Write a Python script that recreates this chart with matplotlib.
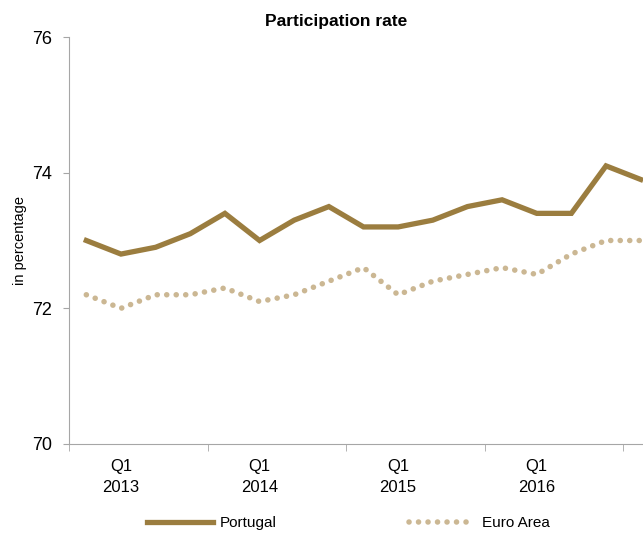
import matplotlib
matplotlib.use("Agg")
import matplotlib.pyplot as plt
import numpy as np

# quarterly data, Q4 2012 .. Q4 2016
quarters = ["Q4 2012",
            "Q1 2013", "Q2 2013", "Q3 2013", "Q4 2013",
            "Q1 2014", "Q2 2014", "Q3 2014", "Q4 2014",
            "Q1 2015", "Q2 2015", "Q3 2015", "Q4 2015",
            "Q1 2016", "Q2 2016", "Q3 2016", "Q4 2016"]
portugal = [73.0, 72.8, 72.9, 73.1, 73.4, 73.0, 73.3, 73.5, 73.2,
            73.2, 73.3, 73.5, 73.6, 73.4, 73.4, 74.1, 73.9]
euro_area = [72.2, 72.0, 72.2, 72.2, 72.3, 72.1, 72.2, 72.4, 72.6,
             72.2, 72.4, 72.5, 72.6, 72.5, 72.8, 73.0, 73.0]
year_labels = ["Q1\n2013", "Q1\n2014", "Q1\n2015", "Q1\n2016"]

plt.rcParams['font.family'] = ['Liberation Sans', 'DejaVu Sans']

PT_COLOR = "#9b7d3f"
EA_COLOR = "#cbb793"
AX_COLOR = "#a6a6a6"

fig = plt.figure(figsize=(6.43, 5.34), dpi=100)
ax = fig.add_axes([69 / 643, 90 / 534, 589 / 643, 407 / 534])

x = np.arange(len(quarters))
ax.plot(x, portugal, color=PT_COLOR, lw=3.8, solid_joinstyle='miter',
        label="Portugal")
ax.plot(x, euro_area, color=EA_COLOR, lw=4.0, dashes=[0.01, 1.7],
        dash_capstyle='round', label="Euro Area")

ax.set_xlim(-0.5, len(quarters) - 0.5)
ax.set_ylim(70, 76)
ax.set_yticks([70, 72, 74, 76])
ax.tick_params(axis='y', labelsize=13, length=4, color=AX_COLOR, pad=8)

q1_idx = [i for i, q in enumerate(quarters) if q.startswith("Q1")]
ax.set_xticks(q1_idx)
ax.set_xticklabels(year_labels, fontsize=12, linespacing=1.45)
ax.set_xticks(np.arange(-0.5, len(quarters), 4), minor=True)
ax.tick_params(axis='x', which='major', length=0, pad=11)
ax.tick_params(axis='x', which='minor', length=5, color=AX_COLOR)

for side in ['top', 'right']:
    ax.spines[side].set_visible(False)
for side in ['left', 'bottom']:
    ax.spines[side].set_color(AX_COLOR)

ax.set_ylabel("in percentage", fontsize=10.5, labelpad=4)
ax.set_title("Participation rate", fontsize=12.5, fontweight='bold',
             family=['Liberation Sans Narrow', 'Liberation Sans'], pad=8,
             x=(336 - 69) / 589)

fig.legend(loc='center', bbox_to_anchor=(0.542, 0.02), ncol=2, frameon=False,
           fontsize=11, handlelength=4.3, columnspacing=8.7, handletextpad=0.45)

fig.savefig("out.png", dpi=100)
